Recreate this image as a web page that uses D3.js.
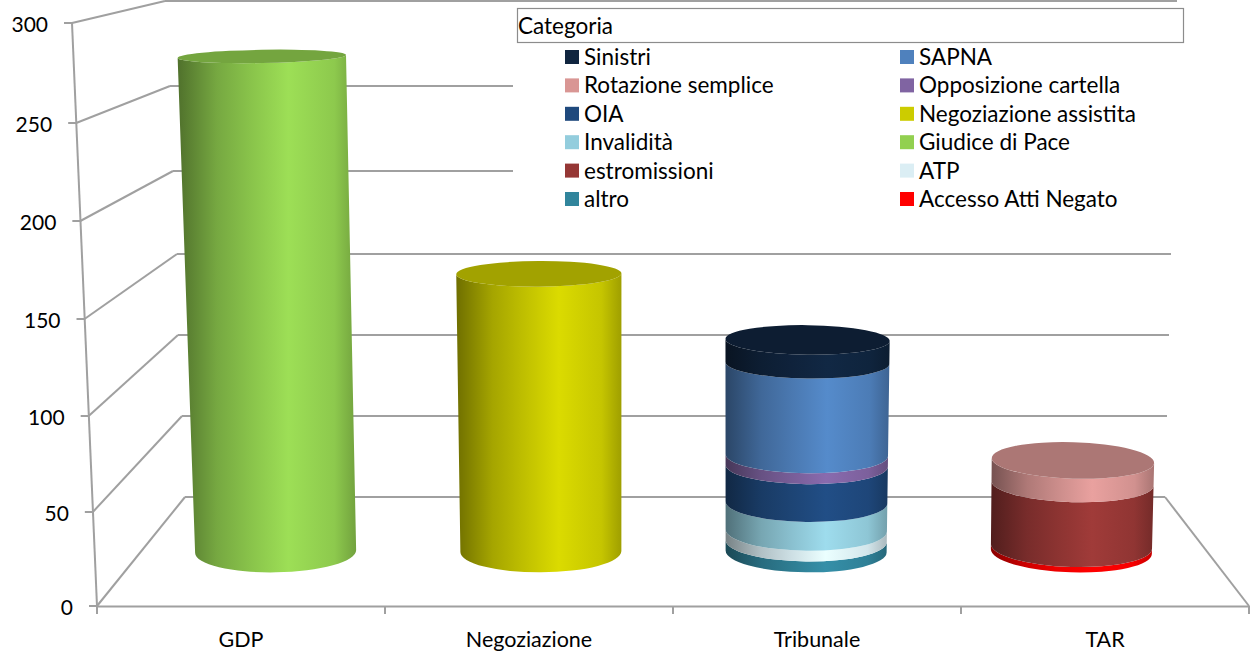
<!doctype html>
<html>
<head>
<meta charset="utf-8">
<style>
  html, body { margin: 0; padding: 0; background: #fff; }
  svg { display: block; }
  text { font-family: Lato, "Noto Sans", sans-serif; fill: #000; }
</style>
</head>
<body>
<svg id="chart" width="1250" height="651"></svg>
<script src="https://d3js.org/d3.v7.min.js"></script>
<script>
// data
var categories = ["GDP", "Negoziazione", "Tribunale", "TAR"];
var yTicks = [0, 50, 100, 150, 200, 250, 300];

var seriesNames = ["Accesso Atti Negato", "altro", "ATP", "estromissioni", "Giudice di Pace", "Invalidità",
  "Negoziazione assistita", "OIA", "Opposizione cartella", "Rotazione semplice", "SAPNA", "Sinistri"];
var seriesColors = ["#ff0000", "#31859c", "#dbeef4", "#953735", "#92d050", "#93cddd",
  "#cccc00", "#1f497d", "#8064a2", "#d99694", "#4f81bd", "#10253f"];

var accessoAtti = [0, 0, 0, 3];
var altro = [0, 0, 6, 0];
var atp = [0, 0, 6, 0];
var estromissioni = [0, 0, 0, 36];
var giudicePace = [276, 0, 0, 0];
var invalidita = [0, 0, 16, 0];
var negoziazione = [0, 157, 0, 0];
var oia = [0, 0, 21, 0];
var opposizione = [0, 0, 6, 0];
var rotazione = [0, 0, 0, 13];
var sapna = [0, 0, 52, 0];
var sinistri = [0, 0, 13, 0];

var seriesValues = [accessoAtti, altro, atp, estromissioni, giudicePace, invalidita,
  negoziazione, oia, opposizione, rotazione, sapna, sinistri];

// legend order, two columns
var legendOrder = ["Sinistri", "SAPNA", "Rotazione semplice", "Opposizione cartella", "OIA", "Negoziazione assistita",
  "Invalidità", "Giudice di Pace", "estromissioni", "ATP", "altro", "Accesso Atti Negato"];

var svg = d3.select("#chart");
var gridColor = "#a0a0a0";

// the box is in perspective: front and back planes have their own scales
var yFront = d3.scaleLinear().domain(yTicks).range([606, 512, 416, 319, 221, 123, 23]);
var yBack = d3.scaleLinear().domain(yTicks).range([497, 416, 335, 254, 171, 86, 1]);
var xFrontLeft = d3.scaleLinear().domain([0, 300]).range([97, 72]);
var xBackLeft = d3.scaleLinear().domain(yTicks).range([185, 182, 178, 177, 173, 170, 165]);
var xBackRight = d3.scaleLinear().domain([0, 300]).range([1165, 1177]);

var xFront = d3.scaleBand().domain(categories).range([97, 1249]);
var xMid = d3.scaleBand().domain(categories).range([143, 1204]);

function yMid(v) { return (yFront(v) + yBack(v)) / 2; }

// cylinder shape through the projection
var radius = d3.scaleLinear().domain([0, 300]).range([80.5, 84.5]);
var lean = d3.scaleOrdinal().domain(categories).range([-0.05, -0.013, 0.012, 0.03]);
var tilt = d3.scaleOrdinal().domain(categories).range([-0.018, -0.006, 0.012, 0.03]);
var flatten = d3.scaleLinear().domain([0, 557]).range([5, 21]);

// grid
var grid = svg.append("g").attr("fill", "none").attr("stroke", gridColor).attr("stroke-width", 2);

yTicks.forEach(function(t) {
  grid.append("line")
    .attr("x1", xBackLeft(t)).attr("y1", yBack(t))
    .attr("x2", xBackRight(t)).attr("y2", yBack(t));
  grid.append("line")
    .attr("x1", xFrontLeft(t)).attr("y1", yFront(t))
    .attr("x2", xBackLeft(t)).attr("y2", yBack(t));
  grid.append("line")
    .attr("x1", xFrontLeft(t) - 8).attr("y1", yFront(t))
    .attr("x2", xFrontLeft(t)).attr("y2", yFront(t));
  svg.append("text")
    .attr("x", xFrontLeft(t) - 24)
    .attr("y", yFront(t) + 9)
    .attr("text-anchor", "end")
    .attr("font-size", 21)
    .text(t);
});

grid.append("line")
  .attr("x1", xFrontLeft(0)).attr("y1", yFront(0))
  .attr("x2", xFrontLeft(300)).attr("y2", yFront(300));
grid.append("line")
  .attr("x1", xBackRight(0)).attr("y1", yBack(0))
  .attr("x2", xFront.range()[1]).attr("y2", yFront(0));

// x axis, labels in the middle of each band, ticks on the band edges
var xAxis = svg.append("g")
  .attr("transform", "translate(0," + yFront(0) + ")")
  .call(d3.axisBottom(xFront).tickSize(0).tickPadding(26));
xAxis.select(".domain").attr("stroke", gridColor).attr("stroke-width", 2);
xAxis.selectAll("text").attr("font-size", 21.5).attr("font-family", "Lato").attr("fill", "#000");

d3.range(categories.length + 1).forEach(function(i) {
  var x = xFront.range()[0] + i * xFront.step();
  grid.append("line").attr("x1", x).attr("y1", yFront(0)).attr("x2", x).attr("y2", yFront(0) + 8);
});

// gradients, one for each series
var defs = svg.append("defs");
seriesNames.forEach(function(name, i) {
  var c = d3.color(seriesColors[i]);
  var g = defs.append("linearGradient").attr("id", "grad" + i);
  var stops = [[0, c.darker(1.7)], [0.22, c.darker(0.6)], [0.4, c.darker(0.2)], [0.62, c.brighter(0.2)], [0.88, c.darker(0.1)], [1, c.darker(0.7)]];
  stops.forEach(function(s) {
    g.append("stop").attr("offset", s[0]).attr("stop-color", s[1].formatHex());
  });
});

// stack
var rows = categories.map(function(c, i) {
  var row = { category: c };
  seriesNames.forEach(function(name, s) { row[name] = seriesValues[s][i]; });
  return row;
});
var stacked = d3.stack().keys(seriesNames)(rows);

function ring(cat, v) {
  var cy = yMid(v);
  var r = radius(v);
  var t = tilt(cat);
  var cx = xMid(cat) + xMid.bandwidth() / 2 + lean(cat) * v;
  return {
    r: r,
    ry: flatten(cy),
    rot: Math.atan(t) * 180 / Math.PI,
    lx: cx - r, ly: cy - r * t,
    rx: cx + r, ry2: cy + r * t
  };
}

var bars = svg.append("g");
stacked.forEach(function(layer, s) {
  layer.forEach(function(d, i) {
    if (d[1] <= d[0]) return;
    var cat = categories[i];
    var a = ring(cat, d[0]);
    var b = ring(cat, d[1]);
    bars.append("path")
      .attr("fill", "url(#grad" + s + ")")
      .attr("d", "M" + a.lx + "," + a.ly +
        "A" + a.r + "," + a.ry + " " + a.rot + " 0 0 " + a.rx + "," + a.ry2 +
        "L" + b.rx + "," + b.ry2 +
        "A" + b.r + "," + b.ry + " " + b.rot + " 0 1 " + b.lx + "," + b.ly + "Z");
  });
});

// top disc on each cylinder
categories.forEach(function(cat, i) {
  var top = stacked.filter(function(l) { return l[i][1] > l[i][0]; }).pop();
  var v = top[i][1];
  var b = ring(cat, v);
  bars.append("ellipse")
    .attr("cx", (b.lx + b.rx) / 2)
    .attr("cy", (b.ly + b.ry2) / 2)
    .attr("rx", b.r)
    .attr("ry", b.ry)
    .attr("transform", "rotate(" + b.rot + " " + (b.lx + b.rx) / 2 + " " + (b.ly + b.ry2) / 2 + ")")
    .attr("fill", d3.color(seriesColors[seriesNames.indexOf(top.key)]).darker(0.65).formatHex());
});

// legend
var legend = svg.append("g");
legend.append("rect")
  .attr("x", 513).attr("y", 5).attr("width", 737).attr("height", 208)
  .attr("fill", "#fff");
legend.append("rect")
  .attr("x", 517.5).attr("y", 8.5).attr("width", 666).attr("height", 34)
  .attr("fill", "#fff").attr("stroke", "#8c8c8c").attr("stroke-width", 1.2);
legend.append("text")
  .attr("x", 518).attr("y", 34)
  .attr("font-size", 22.5)
  .text("Categoria");

var legendCol = d3.scaleOrdinal().domain([0, 1]).range([565, 900]);
var legendRow = d3.scaleLinear().domain([0, 5]).range([57, 199]);

legendOrder.forEach(function(name, i) {
  var col = i % 2, row = Math.floor(i / 2);
  legend.append("rect")
    .attr("x", legendCol(col)).attr("y", legendRow(row) - 7)
    .attr("width", 14).attr("height", 14)
    .attr("fill", seriesColors[seriesNames.indexOf(name)]);
  legend.append("text")
    .attr("x", legendCol(col) + 19).attr("y", legendRow(row) + 8)
    .attr("font-size", 22.5)
    .text(name);
});
</script>
</body>
</html>
